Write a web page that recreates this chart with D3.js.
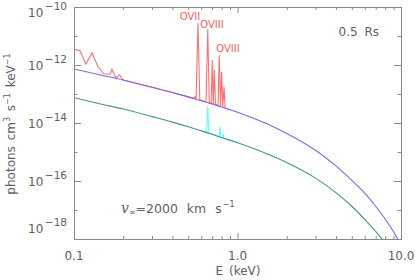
<!DOCTYPE html>
<html>
<head>
<meta charset="utf-8">
<script src="https://cdn.jsdelivr.net/npm/d3@7"></script>
<style>
body { margin: 0; background: #fff; }
svg { display: block; }
text { font-family: "DejaVu Sans", sans-serif; fill: #606060; }
</style>
</head>
<body>
<div id="chart"></div>
<script>
// continuum energies (keV) and log10 flux
var contE = [0.1, 0.15, 0.2, 0.3, 0.4, 0.5, 0.6, 0.7, 0.8, 1.0, 1.5, 2, 3, 4, 5, 6, 7, 8, 9, 9.6];
var purpleLog = [-12.14, -12.36, -12.52, -12.77, -12.95, -13.10, -13.23, -13.34, -13.45, -13.63,
    -14.02, -14.36, -14.94, -15.48, -15.98, -16.42, -16.87, -17.31, -17.75, -18.02];

var tealE = [0.1, 0.15, 0.2, 0.3, 0.4, 0.5, 0.6, 0.7, 0.8, 1.0, 1.5, 2, 3, 4, 5, 6, 7, 7.7];
var tealLog = [-13.13, -13.36, -13.52, -13.78, -13.97, -14.13, -14.27, -14.39, -14.50, -14.68,
    -15.05, -15.36, -15.90, -16.40, -16.87, -17.32, -17.74, -18.02];

// line spectrum (red) on top of the hot continuum
var redE = [0.1, 0.1088, 0.1184, 0.1288, 0.1402, 0.1526, 0.1660, 0.1707, 0.1807, 0.1892, 0.2003,
    0.3, 0.4, 0.5, 0.540, 0.550, 0.558, 0.573, 0.588, 0.642, 0.658, 0.672, 0.690, 0.701, 0.711,
    0.722, 0.733, 0.760, 0.774, 0.787, 0.800, 0.813, 0.827, 0.840, 0.9];
var redLog = [-11.46, -11.51, -11.97, -11.59, -12.06, -12.31, -12.31, -12.14, -12.46, -12.34, -12.52,
    -12.77, -12.95, -13.10, -13.15, -13.09, -13.17, -10.56, -13.20, -13.27, -10.76, -13.31, -13.33, -11.83, -13.35,
    -12.17, -13.37, -13.40, -11.66, -13.42, -12.23, -13.45, -12.75, -13.48, -13.54];

// line spectrum (cyan) on the cool continuum
var cyanE = [0.6, 0.648, 0.658, 0.668, 0.72, 0.772, 0.782, 0.792, 0.81, 0.818, 0.826, 0.86];
var cyanLog = [-14.27, -14.33, -13.42, -14.35, -14.41, -14.47, -14.13, -14.49, -14.51, -14.38, -14.52, -14.56];

// ion labels: text, energy of label centre, log10 of baseline
var ionNames = ['OVII', 'OVIII', 'OVIII'];
var ionE = [0.512, 0.698, 0.875];
var ionLog = [-10.45, -10.72, -11.55];

var xMajor = [0.1, 1, 10];
var xTickLabels = ['0.1', '1.0', '10.0'];
var xMinor = [0.2, 0.3, 0.4, 0.5, 0.6, 0.7, 0.8, 0.9, 2, 3, 4, 5, 6, 7, 8, 9];
var yMajorExp = [-10, -12, -14, -16, -18];
var yMinorExp = [-11, -13, -15, -17];

var W = 415, H = 280;
var L = 74, R = 401, T = 7, B = 239;

var svg = d3.select('#chart').append('svg').attr('width', W).attr('height', H);

var x = d3.scaleLog().domain([0.1, 10]).range([L, R]);
var y = d3.scaleLog().domain([1e-18, 1e-10]).range([B, T]);

function pts(es, lgs) {
    return es.map(function (e, i) { return [e, Math.pow(10, lgs[i])]; });
}

svg.append('clipPath').attr('id', 'plotclip')
    .append('rect').attr('x', L).attr('y', T).attr('width', R - L).attr('height', B - T);

var smooth = d3.line().x(function (d) { return x(d[0]); }).y(function (d) { return y(d[1]); })
    .curve(d3.curveMonotoneX);
var sharp = d3.line().x(function (d) { return x(d[0]); }).y(function (d) { return y(d[1]); });

var plot = svg.append('g').attr('clip-path', 'url(#plotclip)');

plot.append('path').attr('d', sharp(pts(redE, redLog)))
    .attr('fill', 'none').attr('stroke', '#ff6f6f').attr('stroke-width', 1.1);
plot.append('path').attr('d', smooth(pts(contE, purpleLog)))
    .attr('fill', 'none').attr('stroke', '#8762e4').attr('stroke-width', 1.1);
plot.append('path').attr('d', sharp(pts(cyanE, cyanLog)))
    .attr('fill', 'none').attr('stroke', '#6ff8ff').attr('stroke-width', 1.2);
plot.append('path').attr('d', smooth(pts(tealE, tealLog)))
    .attr('fill', 'none').attr('stroke', '#45948a').attr('stroke-width', 1.1);

// axes, ticks pointing inward
function styleAxis(g) {
    g.selectAll('path,line').attr('stroke', '#8a8a8a').attr('stroke-width', 1);
    g.selectAll('text').remove();
}
svg.append('g').attr('transform', 'translate(0,' + B + ')')
    .call(d3.axisBottom(x).tickValues(xMajor).tickSize(-6).tickSizeOuter(0)).call(styleAxis);
svg.append('g').attr('transform', 'translate(0,' + B + ')')
    .call(d3.axisBottom(x).tickValues(xMinor).tickSize(-3).tickSizeOuter(0)).call(styleAxis);
svg.append('g').attr('transform', 'translate(0,' + T + ')')
    .call(d3.axisTop(x).tickValues(xMajor).tickSize(-6).tickSizeOuter(0)).call(styleAxis);
svg.append('g').attr('transform', 'translate(0,' + T + ')')
    .call(d3.axisTop(x).tickValues(xMinor).tickSize(-3).tickSizeOuter(0)).call(styleAxis);

var yMaj = yMajorExp.map(function (e) { return Math.pow(10, e); });
var yMin = yMinorExp.map(function (e) { return Math.pow(10, e); });
svg.append('g').attr('transform', 'translate(' + L + ',0)')
    .call(d3.axisLeft(y).tickValues(yMaj).tickSize(-7).tickSizeOuter(0)).call(styleAxis);
svg.append('g').attr('transform', 'translate(' + L + ',0)')
    .call(d3.axisLeft(y).tickValues(yMin).tickSize(-3.5).tickSizeOuter(0)).call(styleAxis);
svg.append('g').attr('transform', 'translate(' + R + ',0)')
    .call(d3.axisRight(y).tickValues(yMaj).tickSize(-7).tickSizeOuter(0)).call(styleAxis);
svg.append('g').attr('transform', 'translate(' + R + ',0)')
    .call(d3.axisRight(y).tickValues(yMin).tickSize(-3.5).tickSizeOuter(0)).call(styleAxis);

// tick labels
xMajor.forEach(function (v, i) {
    svg.append('text').attr('x', x(v)).attr('y', 260).attr('text-anchor', 'middle')
        .attr('font-size', 12).text(xTickLabels[i]);
});
yMajorExp.forEach(function (e, i) {
    var yy = y(Math.pow(10, e)) + 5;
    if (i === 0) yy = y(Math.pow(10, e)) + 9.5;
    if (i === yMajorExp.length - 1) yy = y(Math.pow(10, e)) - 6;
    var t = svg.append('text').attr('x', 67).attr('y', yy).attr('text-anchor', 'end').attr('font-size', 12);
    t.append('tspan').text('10');
    t.append('tspan').attr('dy', -7).attr('font-size', 10.5).attr('dx', 1.5).text('\u2212' + Math.abs(e));
});

svg.append('text').attr('x', 238).attr('y', 275).attr('text-anchor', 'middle')
    .attr('font-size', 12).attr('word-spacing', 2).text('E (keV)');

var yt = svg.append('text').attr('transform', 'translate(15,124) rotate(-90)')
    .attr('text-anchor', 'middle').attr('font-size', 12).attr('word-spacing', 2);
yt.append('tspan').text('photons cm');
yt.append('tspan').attr('dy', -5).attr('font-size', 8).text('3');
yt.append('tspan').attr('dy', 5).text(' s');
yt.append('tspan').attr('dy', -5).attr('font-size', 8).text('\u22121');
yt.append('tspan').attr('dy', 5).text(' keV');
yt.append('tspan').attr('dy', -5).attr('font-size', 8).text('\u22121');

svg.append('text').attr('x', 379).attr('y', 36).attr('text-anchor', 'end')
    .attr('font-size', 12).attr('word-spacing', 3).text('0.5 Rs');

var vt = svg.append('text').attr('x', 121).attr('y', 213).attr('font-size', 12.5).attr('word-spacing', 5);
vt.append('tspan').attr('font-family', 'DejaVu Serif').attr('font-style', 'italic').attr('font-size', 14).text('v');
vt.append('tspan').attr('dy', 2).attr('font-size', 8).text('\u221e');
vt.append('tspan').attr('dy', -2).text('=2000 km s');
vt.append('tspan').attr('dy', -6).attr('dx', 1).attr('font-size', 8).text('\u22121');

ionNames.forEach(function (name, i) {
    svg.append('text').attr('x', x(ionE[i])).attr('y', y(Math.pow(10, ionLog[i])))
        .attr('text-anchor', 'middle').attr('font-family', 'Liberation Sans, sans-serif')
        .attr('font-size', 10).style('fill', '#ff5c5c').text(name);
});
</script>
</body>
</html>
